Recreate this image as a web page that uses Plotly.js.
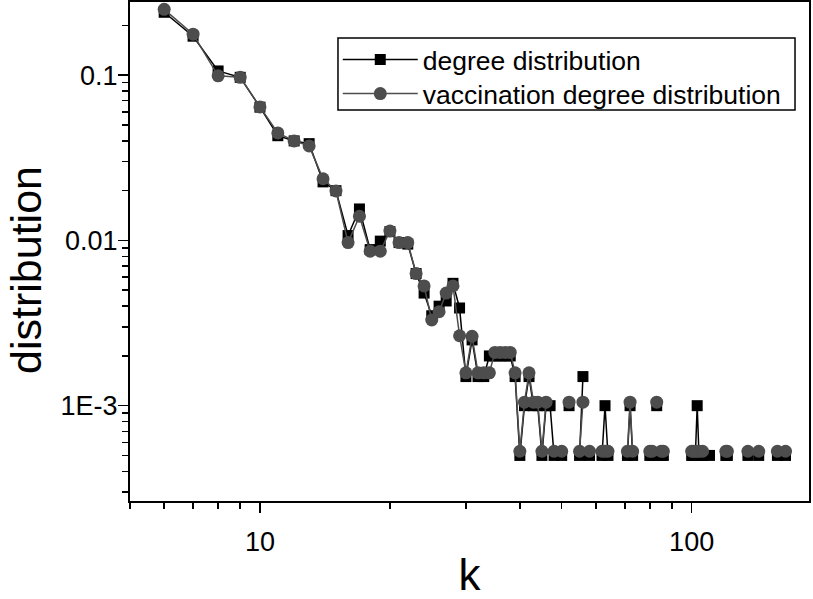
<!DOCTYPE html>
<html><head><meta charset="utf-8">
<script src="https://cdn.plot.ly/plotly-3.0.1.min.js"></script>
<style>html,body{margin:0;padding:0;background:#fff}#chart{width:813px;height:599px}</style>
</head><body><div id="chart"></div>
<script>
// degree k (null entries in the value arrays mark empty degrees -> line breaks)
const k = [6,7,8,9,10,11,12,13,14,15,16,17,18,19,20,21,22,23,24,25,26,27,28,29,30,
  31,32,33,34,35,36,37,38,39,40,41,42,43,44,45,46,47,48,49,50,51,52,53,55,56,57,58,59,
  62,63,64,65,71,72,73,74,80,81,82,83,84,85,86,87,100,101,102,103,104,105,106,107,110,111,
  120,121,122,135,136,143,144,158,159,165];

const degreeDist = [0.240,0.172,0.106,0.097,0.064,0.043,0.040,0.0385,0.0226,0.0200,0.0107,0.0155,0.0088,0.0099,0.0113,0.0097,0.0095,0.0063,0.0048,0.0035,0.0040,0.0043,0.0055,0.0039,0.0015,
  0.0025,0.0015,0.0015,0.0020,0.0020,0.0020,0.0020,0.0020,0.0015,0.0005,0.0010,0.0015,0.0010,0.0010,0.0005,0.0010,0.0010,0.0005,null,0.0005,null,0.0010,null,0.0005,0.0015,null,0.0005,null,
  0.0005,0.0010,0.0005,null,0.0005,0.0010,0.0005,null,0.0005,0.0005,null,0.0010,null,0.0005,0.0005,null,0.0005,0.0005,0.0005,0.0010,0.0005,null,0.0005,null,0.0005,null,
  0.0005,0.0005,null,0.0005,null,0.0005,null,0.0005,null,0.0005];

const vaccinationDist = [0.250,0.177,0.099,0.097,0.0642,0.0447,0.0400,0.0373,0.0236,0.0199,0.0097,0.0140,0.0086,0.0086,0.0114,0.0097,0.0097,0.0063,0.0053,0.0033,0.0037,0.0048,0.0053,0.00265,0.00158,
  0.00263,0.00158,0.00158,0.00158,0.0021,0.0021,0.0021,0.0021,0.00158,0.00053,0.00105,0.00158,0.00105,0.00105,0.00053,0.00105,null,0.00053,null,0.00053,null,0.00105,null,0.00053,0.00105,null,0.00053,null,
  0.00053,0.00053,0.00053,null,0.00053,0.00105,0.00053,null,0.00053,0.00053,null,0.00105,null,0.00053,0.00053,null,0.00053,0.00053,0.00053,0.00053,0.00053,null,0.00053,null,null,null,
  0.00053,0.00053,null,0.00053,null,0.00053,null,0.00053,null,0.00053];

const seriesNames = ['degree distribution', 'vaccination degree distribution'];
const xTitle = 'k';
const yTitle = 'distribution';
const xTickVals = [10, 100];
const xTickText = ['10', '100'];
const xMinorVals = [5,6,7,8,9,20,30,40,50,60,70,80,90];
const yTickVals = [0.001, 0.01, 0.1];
const yTickText = ['1E-3', '0.01', '0.1'];
const yMinorVals = [0.0003,0.0004,0.0005,0.0006,0.0007,0.0008,0.0009,0.002,0.003,0.004,0.005,0.006,0.007,0.008,0.009,0.02,0.03,0.04,0.05,0.06,0.07,0.08,0.09,0.2];

const FONT = 'Liberation Sans, Arial, sans-serif';

const traces = [
  {x: k, y: degreeDist, name: seriesNames[0], type: 'scatter', mode: 'lines+markers',
   connectgaps: false, legend: 'legend',
   line: {color: '#000000', width: 1.5},
   marker: {symbol: 'square', size: 11, color: '#000000'}},
  {x: k, y: vaccinationDist, name: seriesNames[1], type: 'scatter', mode: 'lines+markers',
   connectgaps: false, legend: 'legend2',
   line: {color: '#4d4d4d', width: 1.5},
   marker: {symbol: 'circle', size: 13, color: '#4d4d4d'}}
];

const legendCommon = {xanchor: 'left', yanchor: 'middle', borderwidth: 0,
  bgcolor: 'rgba(0,0,0,0)', itemwidth: 75,
  font: {size: 26.5, family: FONT, color: '#000'}};

const layout = {
  width: 813, height: 599,
  margin: {l: 130, r: 4, t: 2, b: 98},
  paper_bgcolor: '#ffffff', plot_bgcolor: '#ffffff',
  font: {family: FONT, color: '#000'},
  showlegend: true,
  legend: Object.assign({x: 0.306, y: 0.884}, legendCommon),
  legend2: Object.assign({x: 0.306, y: 0.816}, legendCommon),
  shapes: [{type: 'rect', xref: 'paper', yref: 'paper', x0: 0.3063, x1: 0.9794, y0: 0.7836, y1: 0.9279,
    line: {color: '#000', width: 1.5}, fillcolor: 'rgba(255,255,255,0)', layer: 'above'}],
  xaxis: {type: 'log', range: [Math.log10(5), Math.log10(187)],
    showline: true, linecolor: '#000', linewidth: 2, mirror: true,
    ticks: 'outside', ticklen: 10, tickwidth: 1.5, tickcolor: '#000',
    tickmode: 'array', tickvals: xTickVals, ticktext: xTickText,
    tickfont: {size: 27, family: FONT}, ticklabelstandoff: 6,
    minor: {tickmode: 'array', tickvals: xMinorVals, ticks: 'outside', ticklen: 6, tickwidth: 1.5, tickcolor: '#000', showgrid: false},
    showgrid: false, zeroline: false,
    title: {text: xTitle, font: {size: 44, family: FONT}, standoff: 38}},
  yaxis: {type: 'log', range: [Math.log10(2.65e-4), Math.log10(0.277)],
    showline: true, linecolor: '#000', linewidth: 2, mirror: true,
    ticks: 'outside', ticklen: 10, tickwidth: 1.5, tickcolor: '#000',
    tickmode: 'array', tickvals: yTickVals, ticktext: yTickText,
    tickfont: {size: 27, family: FONT}, ticklabelstandoff: -5,
    minor: {tickmode: 'array', tickvals: yMinorVals, ticks: 'outside', ticklen: 6, tickwidth: 1.5, tickcolor: '#000', showgrid: false},
    showgrid: false, zeroline: false},
  annotations: [{text: yTitle, xref: 'paper', yref: 'paper', x: -0.1532, y: 0.463,
    xanchor: 'center', yanchor: 'middle', textangle: -90, showarrow: false,
    font: {size: 43, family: FONT, color: '#000'}}]
};

Plotly.newPlot('chart', traces, layout, {staticPlot: true, displayModeBar: false});
</script></body></html>
